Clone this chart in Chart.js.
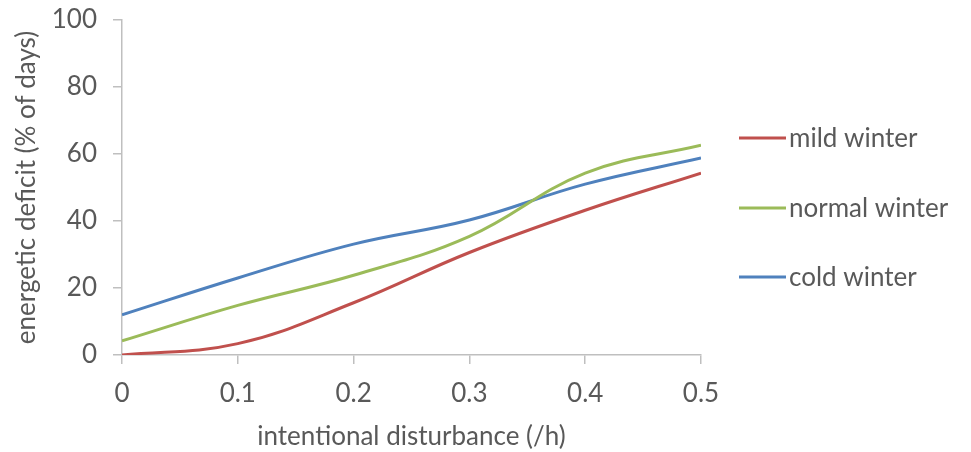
<!DOCTYPE html>
<html>
<head>
<meta charset="utf-8">
<script src="https://cdn.jsdelivr.net/npm/chart.js@4/dist/chart.umd.min.js"></script>
<style>
html,body{margin:0;padding:0;background:#fff;}
#wrap{width:971px;height:452px;position:relative;}
</style>
</head>
<body>
<div id="wrap"><canvas id="c" width="971" height="452"></canvas></div>
<script>
const xValues = [0, 0.1, 0.2, 0.3, 0.4, 0.5];
const mildWinter = [0, 3.4, 15.6, 30.6, 43.2, 54.3];
const normalWinter = [4.2, 14.8, 23.8, 35.4, 54.3, 62.6];
const coldWinter = [12, 23, 33.1, 40.3, 51, 58.8];
const seriesNames = ['mild winter', 'normal winter', 'cold winter'];
const seriesColors = ['#C0504D', '#9BBB59', '#4F81BD'];
const yTicks = [0, 20, 40, 60, 80, 100];
const xTicks = [0, 0.1, 0.2, 0.3, 0.4, 0.5];

const FONT = 'Lato';
const FS = 26;
const TXT = '#595959';
const AX = '#BFBFBF';

function pts(arr){ return xValues.map((x,i)=>({x:x,y:arr[i]})); }

const legendPlugin = {
  id: 'sideLegend',
  afterDraw(chart){
    const ctx = chart.ctx;
    const ys = [138, 208, 277];
    ctx.save();
    chart.data.datasets.forEach((ds,i)=>{
      ctx.strokeStyle = ds.borderColor;
      ctx.lineWidth = 3;
      ctx.beginPath();
      ctx.moveTo(739, ys[i]);
      ctx.lineTo(786, ys[i]);
      ctx.stroke();
      ctx.fillStyle = TXT;
      ctx.font = FS + 'px ' + FONT;
      ctx.textBaseline = 'middle';
      ctx.textAlign = 'left';
      ctx.fillText(ds.label, 789, ys[i] + 1);
    });
    ctx.restore();
  }
};

new Chart(document.getElementById('c'), {
  type: 'line',
  data: {
    datasets: [mildWinter, normalWinter, coldWinter].map((arr,i)=>({
      label: seriesNames[i],
      data: pts(arr),
      borderColor: seriesColors[i],
      backgroundColor: seriesColors[i],
      borderWidth: 3,
      pointRadius: 0,
      tension: 0.4,
      fill: false
    }))
  },
  options: {
    responsive: false,
    animation: false,
    layout: { padding: { left: 0, right: 270, top: 20, bottom: 0 } },
    plugins: { legend: { display: false }, tooltip: { enabled: false } },
    scales: {
      x: {
        type: 'linear',
        min: 0, max: 0.5,
        afterBuildTicks(scale){ scale.ticks = xTicks.map(v=>({value:v})); },
        afterFit(scale){ scale.height = 97; scale.paddingLeft = 0; scale.paddingRight = 0; },
        ticks: {
          color: TXT, font: { family: FONT, size: FS }, padding: 14,
          callback: v => String(v)
        },
        grid: { drawOnChartArea: false, drawTicks: true, tickLength: 9, color: AX, lineWidth: 1.5 },
        border: { color: AX, width: 1.5 },
        title: { display: true, text: 'intentional disturbance (/h)', color: TXT, font: { family: FONT, size: FS }, padding: { top: 0, bottom: 0 } }
      },
      y: {
        min: 0, max: 100,
        afterBuildTicks(scale){ scale.ticks = yTicks.map(v=>({value:v})); },
        afterFit(scale){ scale.width = 122; scale.paddingTop = 0; scale.paddingBottom = 0; },
        ticks: { color: TXT, font: { family: FONT, size: FS }, padding: 16 },
        grid: { drawOnChartArea: false, drawTicks: true, tickLength: 9, color: AX, lineWidth: 1.5 },
        border: { color: AX, width: 1.5 },
        title: { display: true, text: 'energetic deficit (% of days)', color: TXT, font: { family: FONT, size: FS }, padding: { top: 11, bottom: 0 } }
      }
    }
  },
  plugins: [legendPlugin]
});
</script>
</body>
</html>
